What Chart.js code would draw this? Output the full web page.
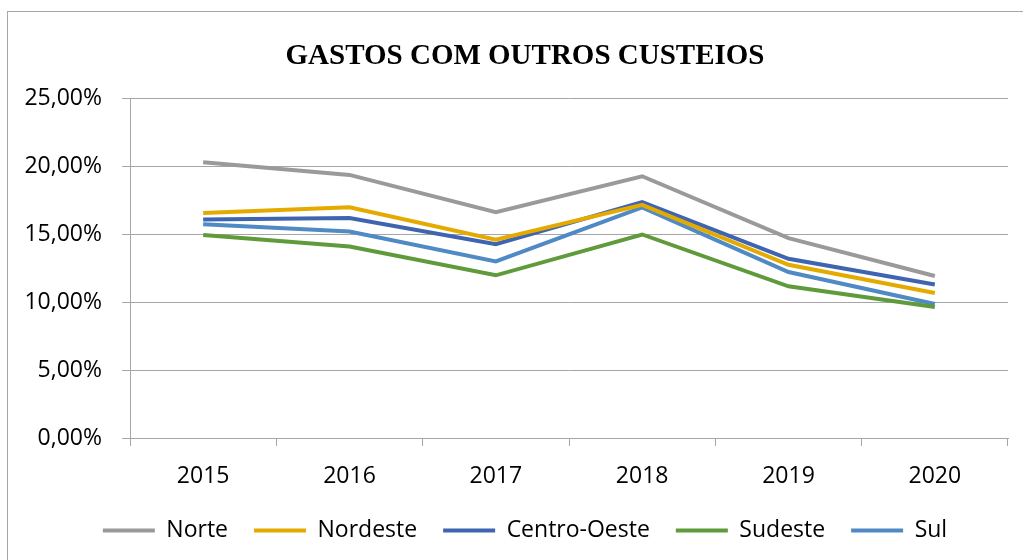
<!DOCTYPE html>
<html>
<head>
<meta charset="utf-8">
<script src="https://cdn.jsdelivr.net/npm/chart.js@4/dist/chart.umd.min.js"></script>
<style>
  html, body { margin: 0; padding: 0; background: #fff; overflow: hidden; }
  #moldura { position: absolute; left: 7px; top: 11px; width: 1040px; height: 570px; border: 1px solid #a6a6a6; box-sizing: border-box; }
  #caixa { position: absolute; left: 0; top: 0; width: 1050px; height: 560px; }
</style>
</head>
<body>
<div id="moldura"></div>
<div id="caixa"><canvas id="grafico"></canvas></div>
<script>
var anos = ['2015', '2016', '2017', '2018', '2019', '2020']
var norte = [20.32, 19.39, 16.64, 19.29, 14.73, 11.94]
var nordeste = [16.59, 17.00, 14.61, 17.18, 12.77, 10.69]
var centro_oeste = [16.10, 16.22, 14.29, 17.38, 13.21, 11.32]
var sudeste = [14.97, 14.12, 11.99, 15.00, 11.18, 9.66]
var sul = [15.76, 15.22, 13.01, 17.00, 12.23, 9.88]

function serie(nome, valores, cor) {
  return {
    label: nome,
    data: valores,
    borderColor: cor,
    backgroundColor: cor,
    borderWidth: 4,
    pointRadius: 0,
    pointHoverRadius: 0,
    tension: 0,
    fill: false
  }
}

var fonte = "'Open Sans', sans-serif"
var ctx = document.getElementById('grafico').getContext('2d')

var config = {
  type: 'line',
  data: {
    labels: anos,
    datasets: [
      serie('Norte', norte, '#9a9a9a'),
      serie('Nordeste', nordeste, '#e5aa00'),
      serie('Centro-Oeste', centro_oeste, '#3f64b0'),
      serie('Sudeste', sudeste, '#5f9b3b'),
      serie('Sul', sul, '#4f8ac4')
    ]
  },
  options: {
    responsive: true,
    maintainAspectRatio: false,
    animation: false,
    layout: { padding: { top: 20, left: 9, right: 9, bottom: 8 } },
    plugins: {
      tooltip: { enabled: false },
      title: {
        display: true,
        text: 'GASTOS COM OUTROS CUSTEIOS',
        color: '#000',
        font: { family: "'Liberation Serif', 'Times New Roman', serif", size: 29, weight: 'bold' },
        padding: { top: 19, bottom: 25 }
      },
      legend: {
        position: 'bottom',
        labels: {
          color: '#000',
          font: { family: fonte, size: 23 },
          usePointStyle: true,
          pointStyle: 'line',
          pointStyleWidth: 52,
          boxHeight: 4,
          padding: 26
        }
      }
    },
    scales: {
      x: {
        offset: true,
        grid: { offset: true, drawOnChartArea: false, color: '#a6a6a6', tickLength: 8 },
        border: { color: '#a6a6a6' },
        ticks: { color: '#000', font: { family: fonte, size: 23 }, padding: 17, maxRotation: 0 },
        afterFit: function (escala) { escala.height = 55 }
      },
      y: {
        min: 0,
        max: 25,
        grid: { color: '#a6a6a6', tickLength: 8 },
        border: { color: '#a6a6a6' },
        ticks: {
          stepSize: 5,
          color: '#000',
          font: { family: fonte, size: 23 },
          padding: 20,
          callback: function (v) { return v.toFixed(2).replace('.', ',') + '%' }
        },
        afterFit: function (escala) { escala.width = 121 }
      },
      // eixo vazio a direita, so para o titulo e a legenda ficarem centrados como no original
      direita: {
        type: 'linear',
        position: 'right',
        min: 0,
        max: 25,
        ticks: { display: false },
        grid: { display: false },
        border: { display: false },
        afterFit: function (escala) { escala.width = 33 }
      }
    }
  }
}

var grafico = new Chart(ctx, config)
</script>
</body>
</html>
